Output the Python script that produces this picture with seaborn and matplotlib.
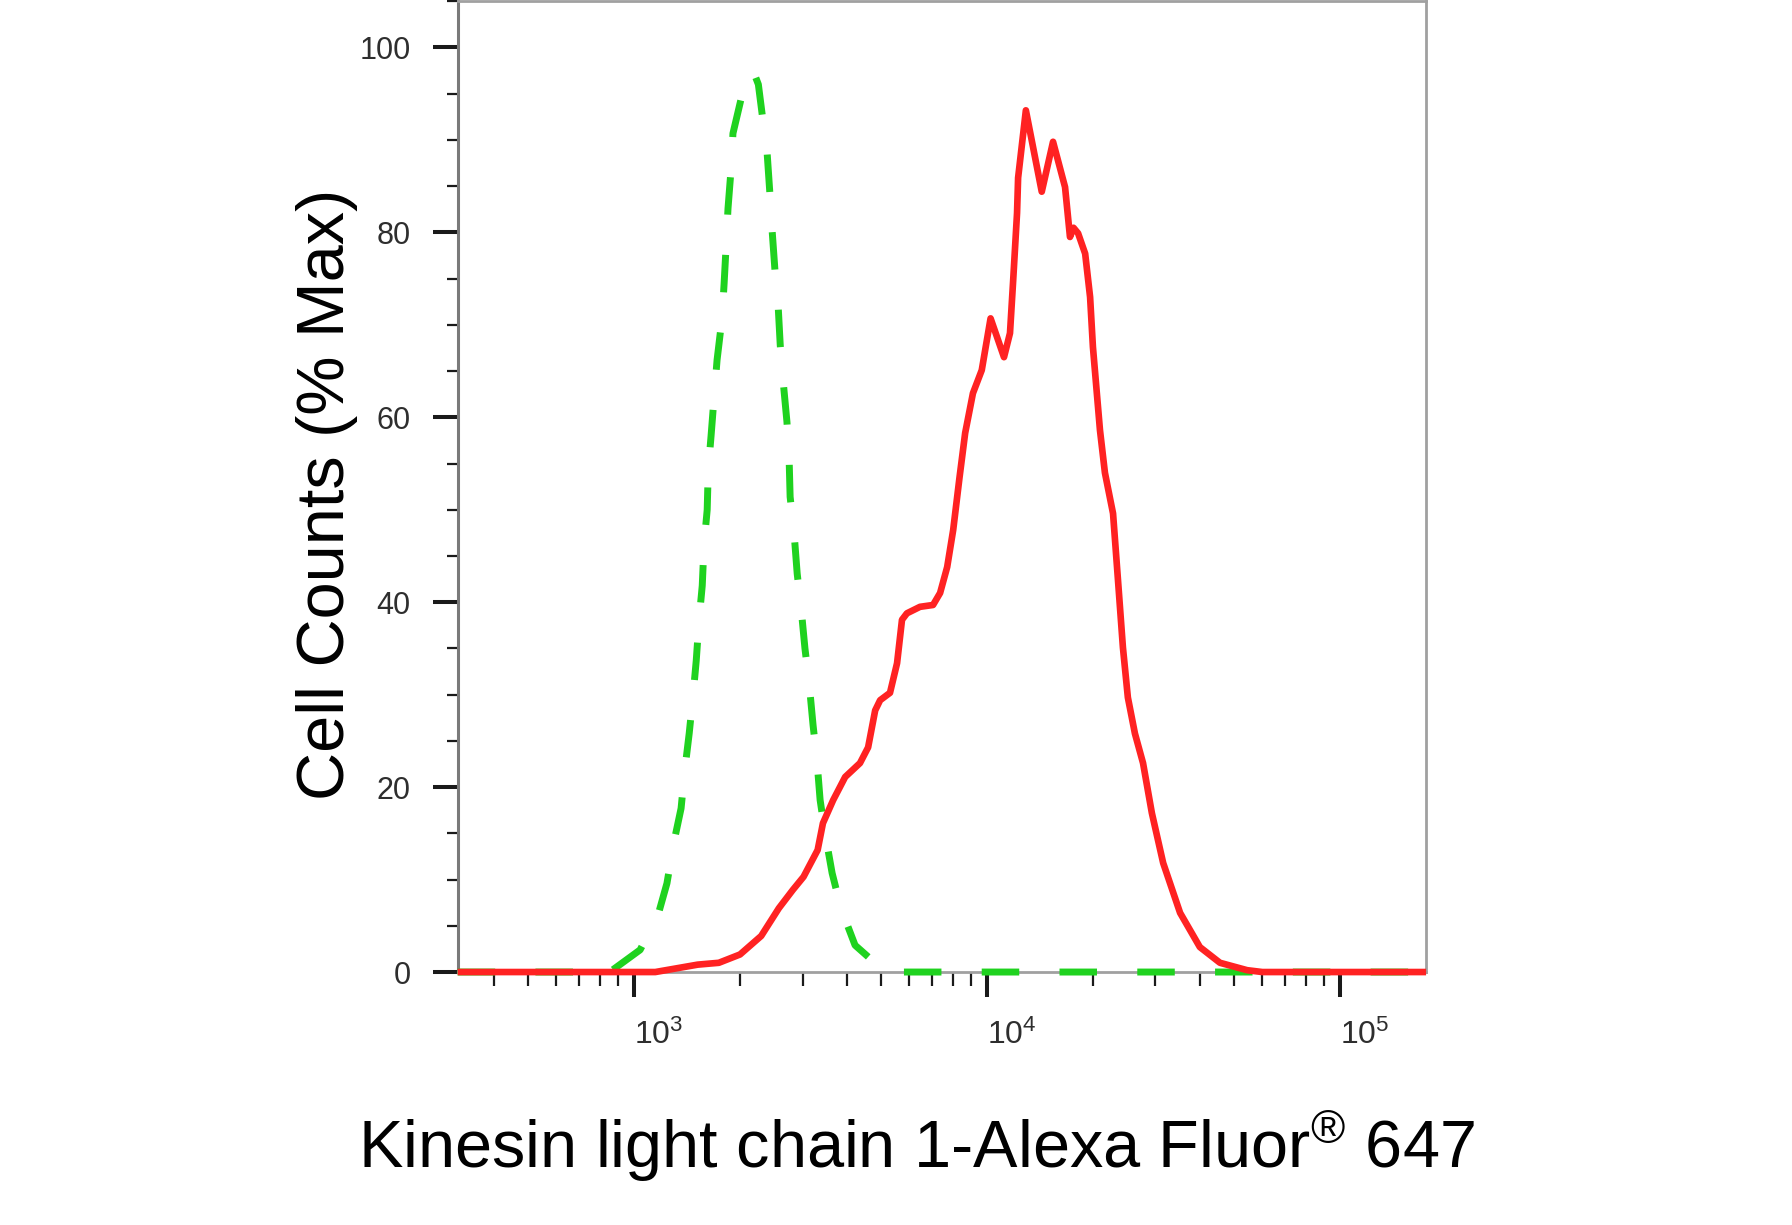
import numpy as np
import pandas as pd
import seaborn as sns
import matplotlib.pyplot as plt
from matplotlib import font_manager
from matplotlib.ticker import LogLocator, MultipleLocator, FuncFormatter, NullFormatter

# isotype control, green dashed (log10 fluorescence, % of max)
iso_log_fl = [2.50, 2.90, 2.938, 3.017, 3.068, 3.093, 3.113, 3.133, 3.144, 3.156,
              3.167, 3.176, 3.184, 3.193, 3.198, 3.207, 3.210, 3.218, 3.227, 3.235,
              3.249, 3.255, 3.261, 3.266, 3.275, 3.280, 3.309, 3.337, 3.352, 3.365,
              3.377, 3.385, 3.391, 3.399, 3.408, 3.414, 3.422, 3.433, 3.439, 3.442,
              3.453, 3.462, 3.473, 3.484, 3.496, 3.507, 3.518, 3.527, 3.541, 3.561,
              3.586, 3.626, 3.697, 3.75, 5.244]
iso_pct = [0, 0, 0.2, 2.4, 6.2, 9.6, 14.1, 17.7, 22.0, 25.8,
           29.9, 33.7, 38.1, 41.8, 46.2, 50.0, 54.3, 58.0, 62.4, 66.2,
           70.7, 74.5, 78.8, 82.6, 87.0, 90.7, 95.4, 97.5, 96.0, 92.1,
           88.5, 84.0, 80.2, 75.9, 72.1, 67.8, 64.0, 59.5, 55.7, 51.4,
           47.6, 43.1, 39.4, 35.0, 31.2, 26.7, 22.9, 18.6, 15.0, 10.7,
           6.9, 2.9, 0.5, 0, 0]

# Kinesin light chain 1 stained cells, red solid
klc_log_fl = [2.50, 3.06, 3.18, 3.24, 3.30, 3.36, 3.41, 3.45, 3.48, 3.52,
              3.535, 3.564, 3.598, 3.640, 3.663, 3.683, 3.697, 3.725, 3.745, 3.759,
              3.773, 3.810, 3.847, 3.867, 3.887, 3.904, 3.922, 3.938, 3.960, 3.985,
              4.010, 4.048, 4.065, 4.074, 4.085, 4.088, 4.110, 4.155, 4.187, 4.221,
              4.235, 4.245, 4.258, 4.278, 4.292, 4.300, 4.312, 4.320, 4.334, 4.357,
              4.371, 4.385, 4.399, 4.419, 4.442, 4.467, 4.499, 4.547, 4.603, 4.660,
              4.737, 4.78, 5.244]
klc_pct = [0, 0, 0.8, 1.0, 1.9, 3.9, 6.9, 8.9, 10.3, 13.2,
           16.1, 18.6, 21.1, 22.6, 24.3, 28.3, 29.4, 30.2, 33.4, 38.1,
           38.8, 39.5, 39.7, 41.0, 43.8, 47.8, 53.5, 58.3, 62.6, 65.1,
           70.7, 66.5, 69.1, 74.8, 82.1, 85.9, 93.2, 84.4, 89.8, 84.9,
           79.5, 80.5, 79.9, 77.7, 73.0, 67.6, 62.2, 58.6, 54.0, 49.6,
           42.4, 35.1, 29.7, 25.8, 22.6, 17.2, 11.8, 6.4, 2.7, 1.0,
           0.2, 0, 0]

x_limits = (10 ** 2.501, 10 ** 5.244)
y_limits = (0, 105)
y_ticks = [0, 20, 40, 60, 80, 100]
x_label = "Kinesin light chain 1-Alexa Fluor$^{®}$ 647"
y_label = "Cell Counts (% Max)"


def pick_tick_font():
    try:
        font_manager.findfont("Liberation Sans Narrow", fallback_to_default=False)
        return "Liberation Sans Narrow", 25
    except Exception:
        return "Liberation Sans", 22


sns.set_style("ticks")
plt.rcParams["font.family"] = ["Liberation Sans", "DejaVu Sans"]
plt.rcParams["mathtext.default"] = "regular"

tick_font, tick_size = pick_tick_font()

iso = pd.DataFrame({"fl": np.power(10.0, iso_log_fl), "pct": iso_pct})
klc = pd.DataFrame({"fl": np.power(10.0, klc_log_fl), "pct": klc_pct})

fig = plt.figure(figsize=(17.92, 12.25), dpi=100)
ax = fig.add_axes([0.2556, 0.2065, 0.5402, 0.7925])

sns.lineplot(data=iso, x="fl", y="pct", ax=ax, estimator=None, sort=False,
             color="#1fd21f", linewidth=5.0, linestyle=(0, (5.4, 5.8)),
             solid_joinstyle="round", clip_on=False, zorder=3)
sns.lineplot(data=klc, x="fl", y="pct", ax=ax, estimator=None, sort=False,
             color="#ff2222", linewidth=4.8, solid_capstyle="butt",
             solid_joinstyle="round", clip_on=False, zorder=3.2)

ax.set_xscale("log")
ax.set_xlim(*x_limits)
ax.set_ylim(*y_limits)

ax.xaxis.set_major_locator(LogLocator(base=10))
ax.xaxis.set_minor_locator(LogLocator(base=10, subs=range(2, 10)))
ax.xaxis.set_major_formatter(FuncFormatter(lambda v, p: r"$\mathregular{10^{%d}}$" % round(np.log10(v))))
ax.xaxis.set_minor_formatter(NullFormatter())
ax.set_yticks(y_ticks)
ax.yaxis.set_minor_locator(MultipleLocator(5))

ax.tick_params(axis="both", which="major", direction="out", length=18, width=2.9,
               color="#1a1a1a", labelcolor="#2e2e2e", labelsize=tick_size, pad=16)
ax.tick_params(axis="x", which="minor", direction="out", length=10, width=1.6, color="#1a1a1a")
ax.tick_params(axis="y", which="minor", direction="out", length=8, width=1.6, color="#1a1a1a")
for lbl in ax.get_xticklabels() + ax.get_yticklabels():
    lbl.set_fontfamily(tick_font)
for lbl in ax.get_xticklabels():
    lbl.set_horizontalalignment("left")
    lbl.set_fontsize(tick_size + 1)

for side in ["top", "right", "bottom"]:
    ax.spines[side].set_color("#a0a0a0")
    ax.spines[side].set_linewidth(2.0)
ax.spines["left"].set_color("#7a7a7a")
ax.spines["left"].set_linewidth(2.2)

ax.set_xlabel("")
ax.set_ylabel(y_label, fontsize=48, color="black")
ax.yaxis.set_label_coords(-0.103, 0.492)
fig.text(0.5115, 1 - 1168 / 1225, x_label, fontsize=48, color="black",
         ha="center", va="baseline")

fig.savefig("out.png", dpi=100, facecolor="white")
